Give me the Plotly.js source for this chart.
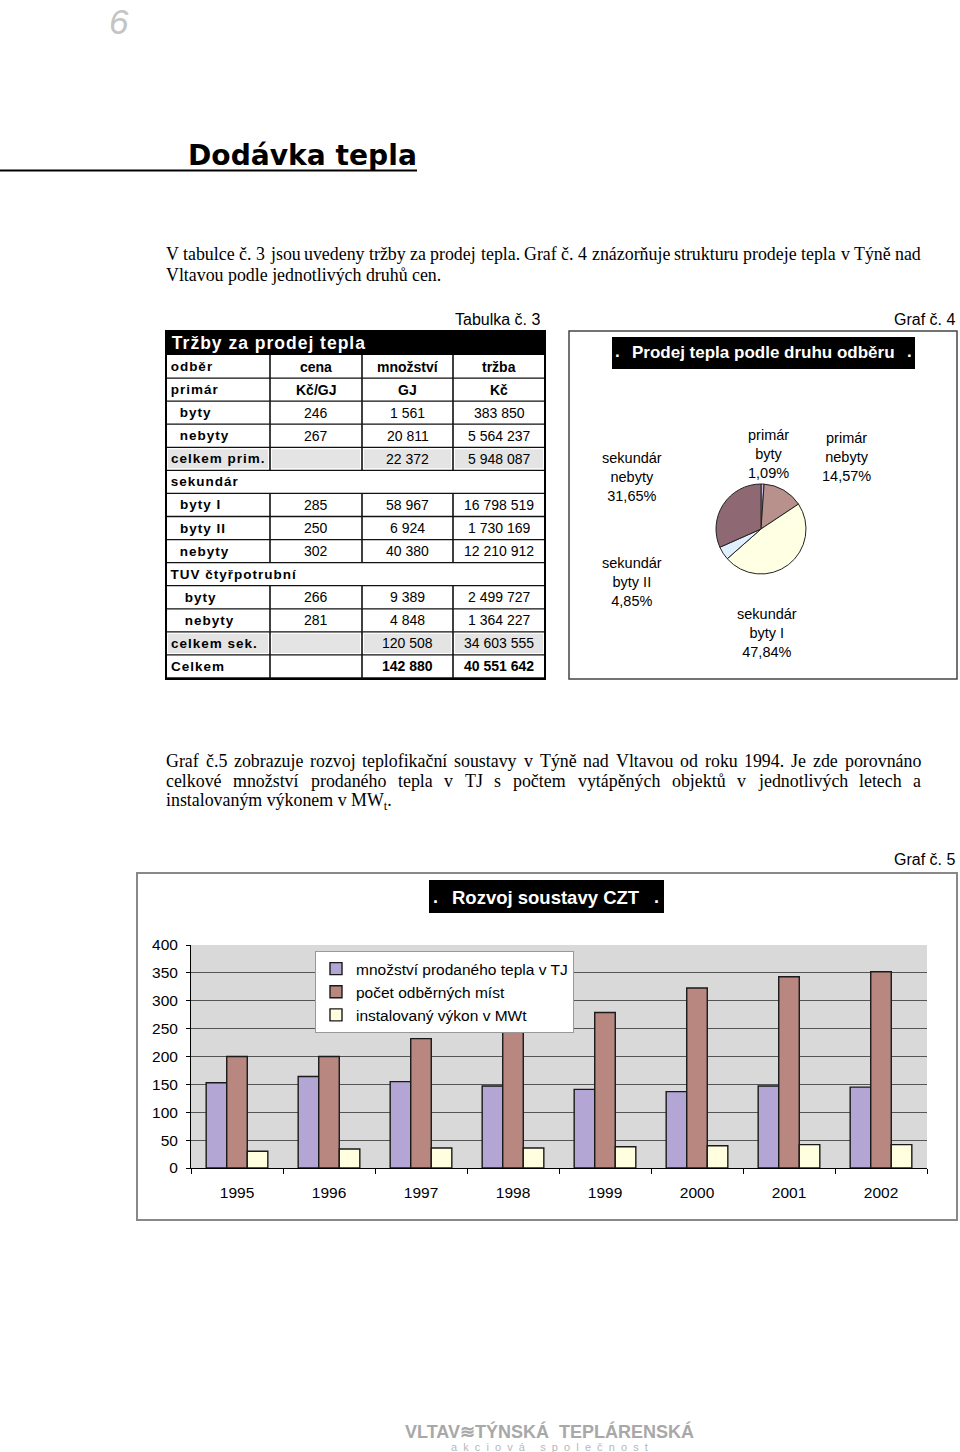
<!DOCTYPE html>
<html><head><meta charset="utf-8">
<script src="https://cdn.plot.ly/plotly-3.0.1.min.js"></script>
<style>html,body{margin:0;padding:0;background:#fff}#page{width:960px;height:1452px}</style>
</head><body><div id="page"></div>
<script>
// ---------------- DATA ----------------
const tableTitle = 'Tržby za prodej tepla';
const headRow1 = ['odběr', 'cena', 'množství', 'tržba'];
const headRow2 = ['primár', 'Kč/GJ', 'GJ', 'Kč'];
const rowLabels = ['byty', 'nebyty', 'celkem prim.', 'sekundár', 'byty I', 'byty II', 'nebyty',
                   'TUV čtyřpotrubní', 'byty', 'nebyty', 'celkem sek.', 'Celkem'];
const priceKcGJ  = ['246', '267', '', '', '285', '250', '302', '', '266', '281', '', ''];
const quantityGJ = ['1 561', '20 811', '22 372', '', '58 967', '6 924', '40 380', '', '9 389', '4 848', '120 508', '142 880'];
const revenueKc  = ['383 850', '5 564 237', '5 948 087', '', '16 798 519', '1 730 169', '12 210 912', '', '2 499 727', '1 364 227', '34 603 555', '40 551 642'];

const pieLabels = ['primár<br>byty', 'primár<br>nebyty', 'sekundár<br>byty I', 'sekundár<br>byty II', 'sekundár<br>nebyty'];
const pieShares = [1.09, 14.57, 47.84, 4.85, 31.65];

const years = ['1995', '1996', '1997', '1998', '1999', '2000', '2001', '2002'];
const soldHeatTJ = [153, 164, 155, 147, 141, 137, 147, 145];
const consumptionPoints = [200, 200, 232, 261, 279, 323, 343, 352];
const installedMWt = [30, 34, 36, 36, 38, 40, 42, 42];
const seriesNames = ['množství prodaného tepla v TJ', 'počet odběrných míst', 'instalovaný výkon v MWt'];

const para1 = ['V tabulce č. 3 jsou uvedeny tržby za prodej tepla. Graf č. 4 znázorňuje strukturu prodeje tepla v Týně nad',
               'Vltavou podle jednotlivých druhů cen.'];
const para2 = ['Graf č.5 zobrazuje rozvoj teplofikační soustavy v Týně nad Vltavou od roku 1994. Je zde porovnáno',
               'celkové množství prodaného tepla v TJ s počtem vytápěných objektů v jednotlivých letech a',
               'instalovaným výkonem v MW<sub>t</sub>.'];

// ---------------- STYLE ----------------
const SANS = 'Liberation Sans, Arial, sans-serif';
const SERIF = 'Liberation Serif, Times New Roman, serif';
const rowIndent = [1, 1, 0, 0, 1, 1, 1, 0, 2, 2, 0, 0];
const rowSpan   = [0, 0, 0, 1, 0, 0, 0, 1, 0, 0, 0, 0];
const rowGrey   = [0, 0, 1, 0, 0, 0, 0, 0, 0, 0, 1, 0];
const rowBold   = [0, 0, 0, 0, 0, 0, 0, 0, 0, 0, 0, 1];
const barColors = ['#b3a6d4', '#b8877f', '#ffffe0'];
const pieColors = ['#c6bde6', '#b8908c', '#ffffe4', '#e0f0ff', '#8e6872'];

const W = 960, H = 1452;
const px = x => x / W, py = y => 1 - y / H;
const ann = [], shp = [], spaced = new Set();
function txt(t, x, y, o) {
  const a = {text: t, x: px(x), y: py(y), xref: 'paper', yref: 'paper', showarrow: false,
    xanchor: 'left', yanchor: 'middle', borderpad: 0, borderwidth: 0,
    font: {family: SANS, size: 14, color: '#000'}};
  if (o) { for (const k in o) { if (k === 'font') Object.assign(a.font, o.font); else a[k] = o[k]; } }
  ann.push(a);
  return ann.length - 1;
}
function rect(x0, y0, x1, y1, o) {
  shp.push(Object.assign({type: 'rect', xref: 'paper', yref: 'paper', x0: px(x0), x1: px(x1), y0: py(y1), y1: py(y0), line: {width: 0}}, o));
}
function seg(x0, y0, x1, y1, color, w) {
  shp.push({type: 'line', xref: 'paper', yref: 'paper', x0: px(x0), y0: py(y0), x1: px(x1), y1: py(y1), line: {color: color, width: w}});
}
const cv = document.createElement('canvas').getContext('2d');
function measure(t, f) { cv.font = f; return cv.measureText(t).width; }

// ---------------- PAGE HEADER ----------------
txt('6', 119, 22, {xanchor: 'center', font: {size: 35, color: '#c4c4c4', style: 'italic'}});
const titleFont = "bold 30px 'DejaVu Sans'";
const tSize = 30 * 229 / measure('Dodávka tepla', titleFont);
txt('Dodávka tepla', 417, 156, {xanchor: 'right', font: {family: 'DejaVu Sans', size: tSize, weight: 'bold'}});
seg(0, 170.5, 417, 170.5, '#000', 2);

// paragraphs (justified)
const PS = Math.min(18, Math.max(15, 17 * 755 / measure(para1[0], "17px 'Liberation Serif'")));
function justify(line, x0, x1, y) {
  const words = line.split(' ');
  const f = PS + "px 'Liberation Serif'";
  const ws = words.map(w => measure(w, f));
  const tot = ws.reduce((a, b) => a + b, 0);
  const gap = (x1 - x0 - tot) / (words.length - 1);
  let x = x0;
  words.forEach((w, i) => { txt(w, x, y, {font: {family: SERIF, size: PS}}); x += ws[i] + gap; });
}
justify(para1[0], 166, 921, 254);
txt(para1[1], 166, 275, {font: {family: SERIF, size: PS}});
justify(para2[0], 166, 921, 761);
justify(para2[1], 166, 921, 781);
txt(para2[2], 166, 801, {font: {family: SERIF, size: PS}});

// ---------------- TABLE ----------------
txt('Tabulka č. 3', 540, 319, {xanchor: 'right', font: {size: 16}});
const cx = [166, 270, 362, 453, 545];
const rTop = 355, rH = (678 - 355) / 14;
rect(166, 331, 545, 355, {fillcolor: '#000'});
spaced.add(txt(tableTitle, 172, 343.5, {font: {size: 17.5, weight: 'bold', color: '#fff'}}));
const allRows = [headRow1, headRow2].concat(rowLabels.map((l, i) => [l, priceKcGJ[i], quantityGJ[i], revenueKc[i]]));
allRows.forEach((r, i) => {
  const y0 = rTop + i * rH, y1 = y0 + rH, yc = (y0 + y1) / 2;
  const d = i - 2;
  const span = d >= 0 && rowSpan[d];
  if (d >= 0 && rowGrey[d]) {
    for (let c = 0; c < 4; c++) rect(cx[c] + 2, y0 + 2, cx[c + 1] - 2, y1 - 2, {fillcolor: '#e4e4e4'});
  }
  if (!span) for (let c = 1; c < 4; c++) seg(cx[c], y0, cx[c], y1, '#111', 1.6);
  seg(166, y1, 545, y1, '#111', 1.3);
  const ind = d >= 0 ? [171, 180, 185][rowIndent[d]] : 171;
  const bold = d >= 0 && rowBold[d];
  spaced.add(txt(r[0], ind, yc, {font: {size: 13.5, weight: 'bold'}}));
  for (let c = 1; c < 4; c++) {
    if (!r[c]) continue;
    txt(r[c], (cx[c] + cx[c + 1]) / 2, yc, {xanchor: 'center', font: {size: 14, weight: (i < 2 || bold) ? 'bold' : 'normal'}});
  }
});
rect(166, 331, 545, 679, {line: {color: '#000', width: 2}});

// ---------------- PIE BOX ----------------
txt('Graf č. 4', 955, 319, {xanchor: 'right', font: {size: 16}});
rect(569, 331, 957, 679, {line: {color: '#444', width: 1.5}});
rect(612, 337, 915, 369, {fillcolor: '#000'});
txt('.', 617, 351, {xanchor: 'center', font: {size: 17, weight: 'bold', color: '#fff'}});
txt('Prodej tepla podle druhu odběru', 763, 352, {xanchor: 'center', font: {size: 17, weight: 'bold', color: '#fff'}});
txt('.', 909, 351, {xanchor: 'center', font: {size: 17, weight: 'bold', color: '#fff'}});
const pieLabelPos = [[768, 454], [846, 457], [767, 633], [632, 582], [632, 477]];
pieLabels.forEach((l, i) => {
  txt(l + '<br>' + pieShares[i].toFixed(2).replace('.', ',') + '%', pieLabelPos[i][0], pieLabelPos[i][1],
      {xanchor: 'center', font: {size: 14.5}});
});

// ---------------- BAR BOX ----------------
txt('Graf č. 5', 955, 859, {xanchor: 'right', font: {size: 16}});
rect(137, 873, 957, 1220, {line: {color: '#888', width: 2}});
rect(429, 880, 664, 913, {fillcolor: '#000'});
txt('.', 435, 897, {xanchor: 'center', font: {size: 18, weight: 'bold', color: '#fff'}});
txt('Rozvoj soustavy CZT', 546, 897, {xanchor: 'center', font: {size: 18.5, weight: 'bold', color: '#fff'}});
txt('.', 656, 897, {xanchor: 'center', font: {size: 18, weight: 'bold', color: '#fff'}});

// ---------------- FOOTER ----------------
txt('VLTAV≋TÝNSKÁ  TEPLÁRENSKÁ', 549, 1431, {xanchor: 'center', font: {size: 18, weight: 'bold', color: '#a8a8a8'}});
txt('a  k  c  i  o  v  á     s  p  o  l  e  č  n  o  s  t', 549, 1447, {xanchor: 'center', font: {size: 11, color: '#b8b8b8'}});

// ---------------- TRACES ----------------
const barLine = {color: '#1a1a1a', width: 1.4};
const traces = [
  {type: 'bar', x: years, y: soldHeatTJ, name: seriesNames[0], marker: {color: barColors[0], line: barLine}, xaxis: 'x', yaxis: 'y'},
  {type: 'bar', x: years, y: consumptionPoints, name: seriesNames[1], marker: {color: barColors[1], line: barLine}, xaxis: 'x', yaxis: 'y'},
  {type: 'bar', x: years, y: installedMWt, name: seriesNames[2], marker: {color: barColors[2], line: barLine}, xaxis: 'x', yaxis: 'y'},
  {type: 'pie', labels: pieLabels, values: pieShares, sort: false, direction: 'clockwise', rotation: 0,
   marker: {colors: pieColors, line: {color: '#222', width: 1}}, textinfo: 'none', hoverinfo: 'none', showlegend: false,
   domain: {x: [px(716), px(806)], y: [py(574), py(484)]}}
];

const layout = {
  width: W, height: H, margin: {l: 0, r: 0, t: 0, b: 0},
  paper_bgcolor: '#fff', plot_bgcolor: '#d9d9d9',
  font: {family: SANS, color: '#000'},
  barmode: 'group', bargap: 0.33, bargroupgap: 0,
  showlegend: true,
  legend: {x: px(315), y: py(951), xanchor: 'left', yanchor: 'top', bgcolor: '#fff', bordercolor: '#999', borderwidth: 1,
           font: {family: SANS, size: 15.5}, itemwidth: 30, tracegroupgap: 0, traceorder: 'normal'},
  xaxis: {domain: [px(191), px(927)], type: 'category', tickson: 'boundaries', ticks: 'outside', ticklen: 5, tickcolor: '#000',
          showline: true, linecolor: '#000', linewidth: 1, showgrid: false, tickfont: {family: SANS, size: 15.5}, ticklabelstandoff: 10,
          fixedrange: true},
  yaxis: {domain: [py(1168), py(945)], range: [0, 400], dtick: 50, showgrid: true, gridcolor: '#555', gridwidth: 1, zeroline: false,
          showline: true, linecolor: '#000', linewidth: 1, ticks: 'outside', ticklen: 4, tickcolor: '#000',
          tickfont: {family: SANS, size: 15.5}, ticklabelstandoff: 5, fixedrange: true},
  annotations: ann, shapes: shp
};
Plotly.newPlot('page', traces, layout, {displayModeBar: false, staticPlot: true}).then(gd => {
  gd.querySelectorAll('.annotation').forEach(g => {
    const idx = +g.getAttribute('data-index');
    if (!spaced.has(idx)) return;
    const t = g.querySelector('text');
    if (!t) return;
    const w0 = t.getBBox().width;
    t.style.letterSpacing = '1px';
    const w1 = t.getBBox().width;
    t.setAttribute('transform', 'translate(' + ((w1 - w0) / 2) + ',0)');
  });
});
</script>
</body></html>
